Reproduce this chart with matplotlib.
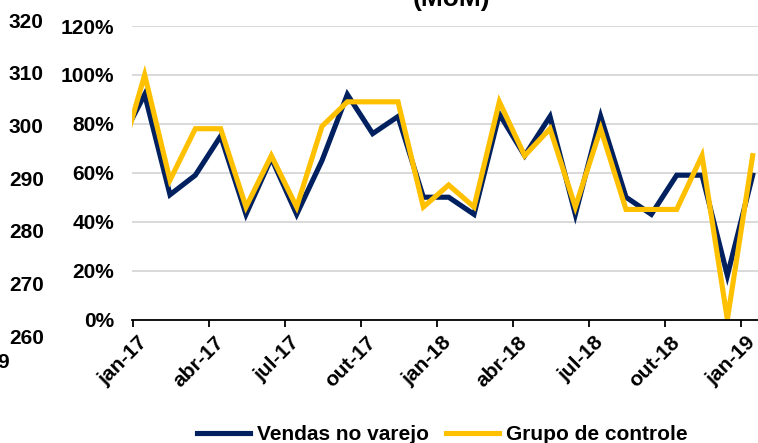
import matplotlib
matplotlib.use("Agg")
import matplotlib.pyplot as plt
import matplotlib.transforms as mtransforms
import numpy as np

plt.rcParams['font.family'] = ['Liberation Sans', 'DejaVu Sans']
plt.rcParams['font.weight'] = 'bold'

# month index: -1 = dez-16 ... 24 = jan-19
months = list(range(-1, 25))
vendas = [72, 92, 51, 59, 75, 43, 66, 43, 65, 92, 76, 83, 50, 50, 43, 84,
          67, 83, 43, 83, 50, 43, 59, 59, 18, 59]
grupo = [64, 100, 57, 78, 78, 46, 67, 46, 79, 89, 89, 89, 46, 55, 46, 89,
         67, 78, 46, 78, 45, 45, 45, 67, 0, 67]
tick_labels = ['jan-17', 'abr-17', 'jul-17', 'out-17', 'jan-18', 'abr-18',
               'jul-18', 'out-18', 'jan-19']
tick_pos = [-0.47 + 3 * i for i in range(len(tick_labels))]
left_labels = [260, 270, 280, 290, 300, 310, 320]

W, H = 758, 443
fig = plt.figure(figsize=(W / 100, H / 100), dpi=100)

navy = '#002060'
gold = '#FFC000'
FS = 15

ax = fig.add_axes([132 / W, (H - 319.5) / H, (W - 132) / W, (319.5 - 26) / H])
ax.plot(months, vendas, color=navy, lw=3.7, solid_joinstyle='miter', label='Vendas no varejo', zorder=3)
ax.plot(months, grupo, color=gold, lw=3.7, solid_joinstyle='miter', label='Grupo de controle', zorder=4)
ax.set_xlim(-0.5, 24.21)
ax.set_ylim(0, 120)
ax.set_yticks(np.arange(0, 121, 20))
ax.set_yticklabels([f'{v}%' for v in range(0, 121, 20)], fontsize=FS, fontweight='bold')
ax.tick_params(axis='y', length=0, pad=13)
ax.grid(axis='y', color='#D9D9D9', lw=1.4, zorder=0)
ax.set_axisbelow(True)
for s in ['left', 'right', 'top']:
    ax.spines[s].set_visible(False)
ax.spines['bottom'].set_color('black')
ax.spines['bottom'].set_linewidth(1.3)
ax.spines['bottom'].set_zorder(5)
ax.set_xticks(tick_pos)
ax.set_xticklabels(tick_labels, rotation=45, ha='right', va='top',
                   rotation_mode='anchor', fontsize=FS, fontweight='bold')
ax.tick_params(axis='x', length=5, width=1.3, direction='out', pad=4.5, color='black')
offset = mtransforms.ScaledTranslation(5 / 100, 0, fig.dpi_scale_trans)
for lab in ax.get_xticklabels():
    lab.set_transform(lab.get_transform() + offset)

# secondary left scale labels (260-320)
ax2 = fig.add_axes([48 / W, (H - 336) / H, 0.001, (336 - 20) / H])
ax2.set_ylim(260, 320)
ax2.set_yticks(left_labels)
ax2.set_yticklabels([str(v) for v in left_labels], fontsize=FS, fontweight='bold')
ax2.tick_params(axis='y', length=0, pad=3)
ax2.set_xticks([])
for s in ax2.spines.values():
    s.set_visible(False)
ax2.patch.set_alpha(0)

fig.text(9 / W, 1 - 362 / H, '9', ha='right', va='center', fontsize=FS, fontweight='bold')
fig.text(451 / W, 1 - 6 / H, '(MoM)', ha='center', va='baseline', fontsize=19, fontweight='bold')

fig.legend(*ax.get_legend_handles_labels(), loc='center', bbox_to_anchor=(442.5 / W, 1 - 435 / H),
           ncol=2, frameon=False, fontsize=FS, handlelength=2.55, handletextpad=0.34,
           columnspacing=0.82, borderpad=0, borderaxespad=0,
           prop={'weight': 'bold', 'size': FS})

fig.savefig('out.png', dpi=100)
